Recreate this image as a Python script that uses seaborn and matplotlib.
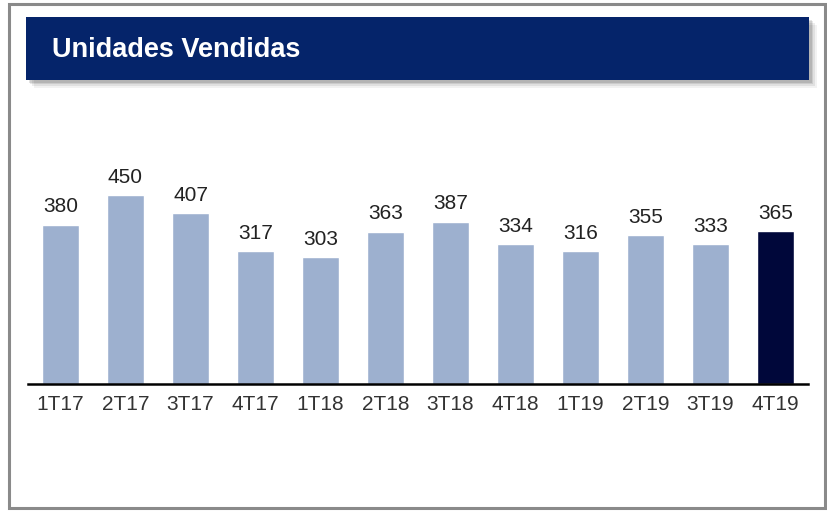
import matplotlib
matplotlib.use('Agg')
import matplotlib.pyplot as plt
from matplotlib import font_manager
from matplotlib.patches import Rectangle
import seaborn as sns

## Data
quarters = ['1T17', '2T17', '3T17', '4T17', '1T18', '2T18', '3T18', '4T18',
            '1T19', '2T19', '3T19', '4T19']
units = [380, 450, 407, 317, 303, 363, 387, 334, 316, 355, 333, 365]

light = '#9db0cf'
dark = '#00073a'
colors = [light] * (len(quarters) - 1) + [dark]

sns.set_style('white')
names = {f.name for f in font_manager.fontManager.ttflist}
narrow = 'Liberation Sans Narrow' in names
plt.rcParams['font.family'] = (['Liberation Sans Narrow'] if narrow else []) + ['Liberation Sans', 'DejaVu Sans']
lab_size = 17 if narrow else 15

fig = plt.figure(figsize=(8.27, 5.12), dpi=100)
W, H = 827, 512

def px(x0, y0, x1, y1):
    # pixel box (top-left origin) -> figure fraction rect
    return (x0 / W, 1 - y1 / H, (x1 - x0) / W, (y1 - y0) / H)

## outer frame
fig.patches.append(Rectangle((9 / W, 1 - 508 / H), 816 / W, 504 / H, transform=fig.transFigure,
                             fill=False, edgecolor='#8a8a8a', linewidth=2.2))

## banner shadow + banner
for i, a in enumerate([0.05, 0.07, 0.09, 0.11]):
    off = 8 - i * 1.8
    x, y, w, h = px(26 + off, 17 + off, 809 + off, 80 + off)
    fig.patches.append(Rectangle((x, y), w, h, transform=fig.transFigure,
                                 facecolor='black', alpha=a, edgecolor='none'))
x, y, w, h = px(26, 17, 809, 80)
fig.patches.append(Rectangle((x, y), w, h, transform=fig.transFigure,
                             facecolor='#05246a', edgecolor='none'))
fig.text(52 / W, 1 - 50 / H, 'Unidades Vendidas', color='white',
         fontsize=22 if narrow else 19.5, fontweight='bold', va='center', ha='left')

## bars
ax = fig.add_axes(px(28, 134, 808, 384))
sns.barplot(x=quarters, y=units, hue=quarters, palette=colors, legend=False,
            width=0.56, saturation=1, ax=ax)
ax.set_ylim(0, 596)
ax.set_xlim(-0.5, len(quarters) - 0.5)

for i, v in enumerate(units):
    ax.annotate(str(v), (i, v), xytext=(0, 6), textcoords='offset points',
                ha='center', va='bottom', fontsize=lab_size, color='#222222')

ax.set_yticks([])
ax.set_ylabel('')
ax.set_xlabel('')
for s in ['top', 'right', 'left']:
    ax.spines[s].set_visible(False)
ax.spines['bottom'].set_color('black')
ax.spines['bottom'].set_linewidth(1.8)
ax.tick_params(axis='x', length=0, labelsize=lab_size, labelcolor='#333333', pad=8)
ax.patch.set_alpha(0)

fig.savefig('out.png', dpi=100)
